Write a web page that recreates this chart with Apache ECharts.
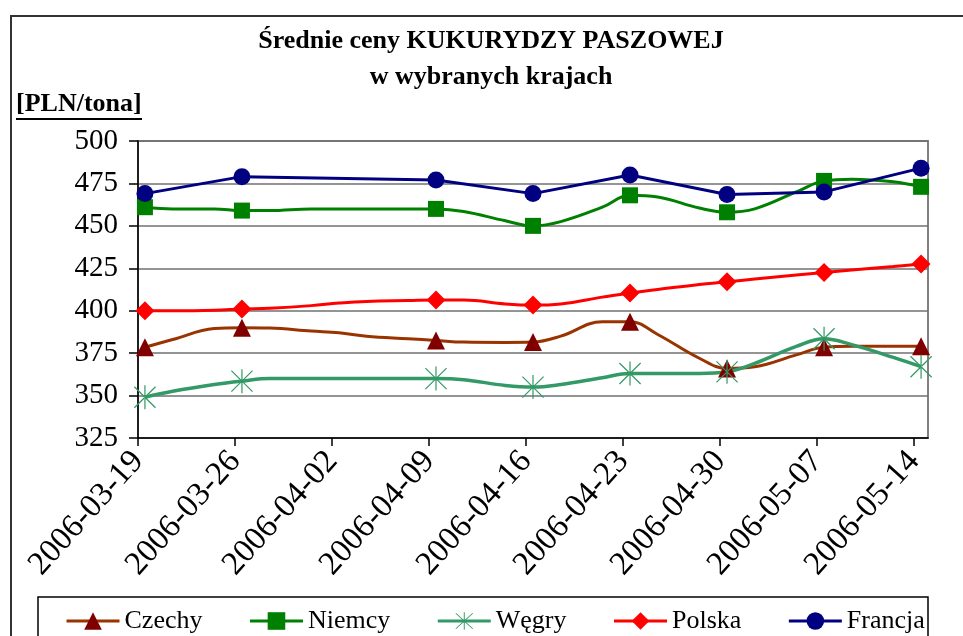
<!DOCTYPE html>
<html>
<head>
<meta charset="utf-8">
<title>Średnie ceny KUKURYDZY PASZOWEJ</title>
<script src="https://cdn.jsdelivr.net/npm/echarts@6/dist/echarts.min.js"></script>
<style>
  html, body { margin: 0; padding: 0; background: #fff; }
  #chart { width: 963px; height: 636px; }
</style>
</head>
<body>
<div id="chart"></div>
<script>
// daty notowan (czeste) i daty z markerami
var dates = ['2006-03-19', '2006-03-21', '2006-03-24', '2006-03-26', '2006-03-28', '2006-03-31',
  '2006-04-02', '2006-04-04', '2006-04-07', '2006-04-09', '2006-04-11', '2006-04-14',
  '2006-04-16', '2006-04-18', '2006-04-21', '2006-04-23', '2006-04-25', '2006-04-28',
  '2006-04-30', '2006-05-02', '2006-05-05', '2006-05-07', '2006-05-09', '2006-05-12', '2006-05-14'];
var markerDates = ['2006-03-19', '2006-03-26', '2006-04-09', '2006-04-16',
  '2006-04-23', '2006-04-30', '2006-05-07', '2006-05-14'];
var tickLabels = ['2006-03-19', '2006-03-26', '2006-04-02', '2006-04-09', '2006-04-16',
  '2006-04-23', '2006-04-30', '2006-05-07', '2006-05-14'];

// ceny [PLN/tona]
var czechy = [378.5, 383, 389.5, 390, 389.8, 388, 387, 385, 383.5, 382.5, 381.5, 381.3,
  381.5, 385, 393.5, 393.5, 386, 372, 366, 367, 374, 378.5, 379, 379, 379];
var niemcy = [461, 460, 460, 459, 459, 460, 460, 460, 460, 460, 458.5, 453,
  450, 452.5, 461, 468, 467, 460.5, 458, 460, 470, 476.5, 477.5, 476, 473];
var wegry = [349, 352.5, 356.5, 358.5, 360, 360, 360, 360, 360, 360, 359.3, 356,
  355, 356.5, 360.5, 363, 363, 363, 364, 369, 379, 383.5, 380, 372.5, 367];
var polska = [400, 400, 400.3, 401, 401.5, 403, 404.5, 405.5, 406, 406.3, 406.3, 404,
  403.3, 404, 408, 410.5, 412.5, 415.5, 417, 418.7, 421, 422.5, 424, 426, 427.5];
var francja = [469, 479, 477, 469, 480, 468.5, 470, 484]; // tylko daty z markerami

var startDate = Date.UTC(2006, 2, 19);
var DAY = 86400000;
var FONT = '"Liberation Serif", "Times New Roman", serif';

function dayIndex(d) { return (Date.parse(d) - startDate) / DAY; }
function dayLabel(v) { return new Date(startDate + Math.round(v) * DAY).toISOString().slice(0, 10); }

// punkt w srodku dnia (jak os dat w Excelu), marker tylko w wybranych datach
function buildData(dts, vals) {
  return dts.map(function (d, i) {
    var item = { value: [dayIndex(d) + 0.5, vals[i]] };
    if (markerDates.indexOf(d) < 0) item.symbol = 'none';
    return item;
  });
}

var asterisk = 'path://M-0.6,-12L0.6,-12L0.6,12L-0.6,12Z' +
  'M-10.08,-10.92L10.92,10.08L10.08,10.92L-10.92,-10.08Z' +
  'M-10.08,10.92L10.92,-10.08L10.08,-10.92L-10.92,10.08Z';

var chart = echarts.init(document.getElementById('chart'));

var option = {
  animation: false,
  backgroundColor: '#fff',
  title: {
    text: 'Średnie ceny KUKURYDZY PASZOWEJ\nw wybranych krajach',
    left: 491,
    top: 23,
    textAlign: 'center',
    padding: 0,
    textStyle: { fontFamily: FONT, fontSize: 26, fontWeight: 'bold', color: '#000', lineHeight: 36 }
  },
  graphic: [
    { type: 'rect', shape: { x: 11, y: 16, width: 1000, height: 700 }, style: { fill: 'none', stroke: '#333', lineWidth: 2 }, silent: true },
    { type: 'text', x: 16, y: 104, style: { text: '[PLN/tona]', font: 'bold 26px ' + FONT, fill: '#000', textVerticalAlign: 'middle' } },
    { type: 'line', shape: { x1: 16, y1: 119, x2: 142, y2: 119 }, style: { stroke: '#000', lineWidth: 2 } },
    { type: 'rect', shape: { x: 38, y: 597, width: 890, height: 80 }, style: { fill: 'none', stroke: '#000', lineWidth: 1.5 }, silent: true }
  ],
  legend: {
    left: 60,
    top: 603,
    itemWidth: 53,
    itemHeight: 22,
    itemGap: 46,
    lineStyle: { width: 3 },
    textStyle: { fontFamily: FONT, fontSize: 26, color: '#000' },
    data: ['Czechy', 'Niemcy', 'Węgry', 'Polska', 'Francja']
  },
  grid: {
    left: 138, top: 141, width: 790, height: 297,
    show: true, borderColor: '#808080', borderWidth: 2, backgroundColor: '#fff'
  },
  xAxis: {
    type: 'value',
    min: 0,
    max: 57,
    axisLine: { lineStyle: { color: '#000', width: 1.5 } },
    axisTick: { length: 8, customValues: tickLabels.map(dayIndex), lineStyle: { color: '#000', width: 1.5 } },
    axisLabel: {
      customValues: tickLabels.map(dayIndex),
      formatter: dayLabel,
      rotate: 48,
      margin: 18,
      fontFamily: FONT, fontSize: 33, color: '#000'
    },
    splitLine: { show: false }
  },
  yAxis: {
    type: 'value',
    min: 325,
    max: 500,
    interval: 25,
    axisLine: { show: true, lineStyle: { color: '#000', width: 1.5 } },
    axisTick: { show: true, length: 9, lineStyle: { color: '#000', width: 1.5 } },
    axisLabel: { margin: 20, fontFamily: FONT, fontSize: 29, color: '#000' },
    splitLine: { lineStyle: { color: '#707070', width: 1.5 } }
  },
  series: [
    {
      name: 'Czechy', type: 'line', smooth: 0.4,
      data: buildData(dates, czechy),
      symbol: 'triangle', symbolSize: 18,
      itemStyle: { color: '#800000' },
      lineStyle: { color: '#993300', width: 3 }
    },
    {
      name: 'Niemcy', type: 'line', smooth: 0.4,
      data: buildData(dates, niemcy),
      symbol: 'rect', symbolSize: 16,
      itemStyle: { color: '#008000' },
      lineStyle: { color: '#008000', width: 3 }
    },
    {
      name: 'Węgry', type: 'line', smooth: 0.4,
      data: buildData(dates, wegry),
      symbol: asterisk, symbolSize: [22, 24],
      itemStyle: { color: '#339966' },
      lineStyle: { color: '#339966', width: 3.5 }
    },
    {
      name: 'Polska', type: 'line', smooth: 0.4,
      data: buildData(dates, polska),
      symbol: 'diamond', symbolSize: 19,
      itemStyle: { color: '#ff0000' },
      lineStyle: { color: '#ff0000', width: 3 }
    },
    {
      name: 'Francja', type: 'line', smooth: false,
      data: buildData(markerDates, francja),
      symbol: 'circle', symbolSize: 17,
      itemStyle: { color: '#000080' },
      lineStyle: { color: '#000080', width: 3 }
    }
  ]
};

chart.setOption(option);
</script>
</body>
</html>
